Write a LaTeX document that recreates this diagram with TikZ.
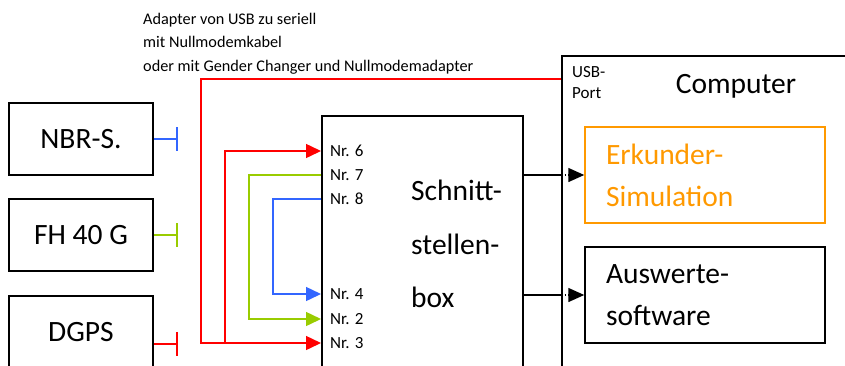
\documentclass[tikz,border=0pt]{standalone}
\usepackage{fontspec}
\setmainfont{Carlito}
\usetikzlibrary{arrows.meta}
\definecolor{cablered}{HTML}{FF0000}
\definecolor{cableblue}{HTML}{3366FF}
\definecolor{cablegreen}{HTML}{99CC00}
\definecolor{simorange}{HTML}{FF9900}

\begin{document}
\begin{tikzpicture}[
  x=1pt,
  y=-1pt,
  every node/.style={inner sep=0pt, black},
  big/.style={font=\fontsize{29.5}{35}\selectfont},
  device/.style={big, draw, line width=1.5pt, minimum width=144pt, minimum height=72pt},
  program/.style={draw, line width=1.5pt, minimum width=240pt, minimum height=96pt,
    text width=198pt, inner xsep=21pt, align=left, font=\fontsize{29.5}{42}\selectfont},
  pin/.style={anchor=west, font=\fontsize{17}{21}\selectfont},
  wire/.style={line width=1.5pt, -{Triangle[length=15pt, width=14pt]}},
  stub/.style={line width=1.5pt, -{Bar[width=24pt]}},
  feed/.style={line width=1.5pt}
]
  \clip (0,0) rectangle (845,365);

  % ================= sensors on the left ================================
  \node[device] (nbr) at (81,139) {NBR-S.};
  \node[device] (fh)  at (81,235) {FH 40 G};
  \node[device, anchor=north] (dgps) at (81,295) {DGPS};

  \draw[stub, cableblue]  (nbr.east) -- ++(24,0);
  \draw[stub, cablegreen] (fh.east) -- ++(24,0);
  \draw[stub, cablered]   ([yshift=-12pt]dgps.east) -- ++(24,0);

  % ================= the interface box ==================================
  \node[draw, line width=1.5pt, anchor=north west, minimum width=201pt,
        minimum height=280pt] (sbox) at (321,115) {};
  \node[anchor=west, align=left, font=\fontsize{29.5}{53.5}\selectfont]
    (slabel) at (411,244) {Schnitt-\\stellen-\\box};

  \node[pin] (n6) at (330,151) {Nr. 6};
  \node[pin] (n7) at (330,175) {Nr. 7};
  \node[pin] (n8) at (330,199) {Nr. 8};
  \node[pin] (n4) at (330,294) {Nr. 4};
  \node[pin] (n2) at (330,319) {Nr. 2};
  \node[pin] (n3) at (330,343) {Nr. 3};

  % ================= the computer =======================================
  \node[draw, line width=1.5pt, anchor=north west, minimum width=320pt,
        minimum height=340pt] (comp) at (561,55) {};
  \node[big] (ctitle) at (736,86) {Computer};
  \node[pin, align=left] (usb) at (572,83) {USB-\\Port};
  \coordinate (usbport) at (561,79);

  \node[program, draw=simorange, text=simorange] (erk) at (705,175)
    {Erkunder-\\Simulation};
  \node[program] (ausw) at (705,295) {Auswerte-\\software};

  % ================= the cables =========================================
  \draw[wire, cablered] (usbport) -| ([xshift=-120pt]n3.west -| sbox.west)
    -- (n3.west -| sbox.west);
  \draw[wire, cablered] ([xshift=-96pt]n3.west -| sbox.west)
    |- (n6.west -| sbox.west);
  \draw[wire, cablegreen] (n7.west -| sbox.west) -- ++(-72,0)
    |- (n2.west -| sbox.west);
  \draw[wire, cableblue] (n8.west -| sbox.west) -- ++(-48,0)
    |- (n4.west -| sbox.west);

  % Lines into the computer: solid to its border, dotted behind it.
  \foreach \t in {erk, ausw} {
    \draw[feed] (\t.west -| sbox.east) -- (\t.west -| comp.west);
    \draw[feed, dotted, -{Triangle[length=16pt, width=14pt]}]
      (\t.west -| comp.west) -- (\t.west);
  }

  % ================= the note above =====================================
  \node[anchor=north west, align=left, font=\fontsize{16.25}{23.5}\selectfont]
    (note) at (143,13) {Adapter von USB zu seriell\\mit Nullmodemkabel\\
    oder mit Gender Changer und Nullmodemadapter};
\end{tikzpicture}
\end{document}
